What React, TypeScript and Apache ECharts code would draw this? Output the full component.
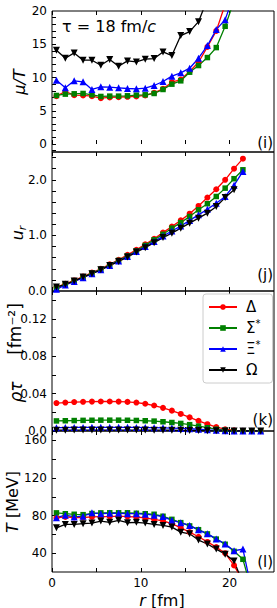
import React, { useEffect, useRef } from "react";
import * as echarts from "echarts";

// ---------- data ----------
const SPECIES = ["Δ", "Σ*", "Ξ*", "Ω"];
const PANEL_TAGS = ["(i)", "(j)", "(k)", "(l)"];

// radial bin centres r [fm]
const R = [0.5, 1.5, 2.5, 3.5, 4.5, 5.5, 6.5, 7.5, 8.5, 9.5, 10.5, 11.5, 12.5, 13.5, 14.5, 15.5, 16.5, 17.5, 18.5, 19.5, 20.5, 21.5, 22.5, 23.5];

// (i) mu/T
const MU_DELTA = [7.2, 7.9, 7.35, 7.3, 7.2, 6.9, 7.0, 7.05, 7.1, 7.15, 7.3, 7.7, 8.3, 9.3, 9.7, 10.9, 12.3, 14.6, 17.0, 21, 26];
const MU_SIGMA = [7.3, 7.5, 7.55, 7.6, 7.4, 7.15, 7.2, 7.2, 7.25, 7.35, 7.4, 7.6, 8.2, 9.0, 9.5, 10.8, 11.8, 13.0, 14.5, 17.7, 21.5, 26];
const MU_XI = [9.6, 8.45, 9.5, 9.35, 8.2, 8.6, 8.55, 8.45, 8.35, 8.3, 8.4, 8.8, 9.4, 10.2, 10.7, 11.4, 12.9, 14.8, 17.2, 18.7, 22.5, 27];
const MU_OMEGA = [14.1, 12.9, 13.7, 12.6, 12.6, 11.85, 12.7, 11.7, 12.5, 12.35, 12.75, 12.85, 13.85, 13.3, 16.3, 16.9, 18.4, 21.8, 26, 31];

// (j) u_r
const UR_DELTA = [0.07, 0.13, 0.19, 0.26, 0.33, 0.40, 0.48, 0.56, 0.65, 0.74, 0.84, 0.94, 1.05, 1.16, 1.27, 1.39, 1.53, 1.68, 1.83, 2.00, 2.20, 2.38];
const UR_SIGMA = [0.06, 0.12, 0.18, 0.25, 0.32, 0.39, 0.47, 0.55, 0.63, 0.72, 0.82, 0.92, 1.02, 1.13, 1.23, 1.34, 1.46, 1.57, 1.70, 1.85, 2.02, 2.18];
const UR_XI = [0.03, 0.11, 0.17, 0.24, 0.31, 0.38, 0.46, 0.54, 0.62, 0.71, 0.80, 0.89, 0.99, 1.08, 1.17, 1.27, 1.37, 1.47, 1.58, 1.70, 1.90, 2.15];
const UR_OMEGA = [0.07, 0.12, 0.18, 0.25, 0.31, 0.38, 0.46, 0.53, 0.61, 0.70, 0.78, 0.87, 0.96, 1.04, 1.13, 1.22, 1.31, 1.40, 1.52, 1.68, 1.82];

// (k) rho*tau [fm^-2]
const RHO_DELTA = [0.0299, 0.0305, 0.0310, 0.0313, 0.0315, 0.0316, 0.0316, 0.0315, 0.0312, 0.0305, 0.0292, 0.0273, 0.0248, 0.0218, 0.0183, 0.0146, 0.0109, 0.0073, 0.0042, 0.0019, 0.0007, 0.0002, 0, 0];
const RHO_SIGMA = [0.0108, 0.0110, 0.0112, 0.0114, 0.0115, 0.0116, 0.0116, 0.0116, 0.0115, 0.0113, 0.0110, 0.0106, 0.0099, 0.0091, 0.0081, 0.0068, 0.0052, 0.0035, 0.0019, 0.0008, 0.0002, 0, 0, 0];
const RHO_XI = [0.0036, 0.0037, 0.0038, 0.0038, 0.0039, 0.0039, 0.0039, 0.0039, 0.0039, 0.0038, 0.0037, 0.0036, 0.0034, 0.0031, 0.0028, 0.0024, 0.0019, 0.0013, 0.0008, 0.0004, 0.0001, 0, 0, 0];
const RHO_OMEGA = [0.0009, 0.0009, 0.0010, 0.0010, 0.0010, 0.0010, 0.0010, 0.0010, 0.0010, 0.0010, 0.0010, 0.0009, 0.0009, 0.0008, 0.0007, 0.0006, 0.0005, 0.0003, 0.0002, 0.0001, 0, 0, 0, 0];

// (l) T [MeV]
const T_DELTA = [77.5, 78.6, 78, 78, 78.6, 79, 79, 79.5, 79, 78.5, 77.5, 76, 74.5, 71.4, 67, 62.4, 57.5, 52, 46.5, 40, 27, 10];
const T_SIGMA = [82.9, 82, 81.4, 81, 82.2, 82.9, 83, 83, 83, 82.5, 82, 81.4, 79.3, 76, 72.5, 69, 65, 60.5, 55, 49.5, 42, 33.5, 0];
const T_XI = [77.8, 80.4, 78.6, 79.3, 82.9, 82, 82.5, 82.5, 82, 82, 81.5, 80.5, 79, 75, 72.5, 69.6, 64.9, 60.6, 55.2, 49.8, 42.6, 44.4, 0];
const T_OMEGA = [67, 70.6, 70.6, 71.4, 72, 74.2, 72.8, 75, 72.4, 72.8, 72, 70.6, 69.6, 67.8, 62.4, 60.6, 54, 49.8, 44.4, 39, 31.8, 8];

// axis ticks
const X_TICKS = [0, 5, 10, 15, 20];
const X_LABELS = [0, 10, 20];
const Y1_LABELS = [0, 5, 10, 15, 20];
const Y1_TICKS = [-1, 0, 1, 2, 3, 4, 5, 6, 7, 8, 9, 10, 11, 12, 13, 14, 15, 16, 17, 18, 19];
const Y2_LABELS = [0, 1, 2];
const Y2_TICKS = [0, 0.2, 0.4, 0.6, 0.8, 1.0, 1.2, 1.4, 1.6, 1.8, 2.0, 2.2, 2.4];
const Y3_LABELS = [0, 0.04, 0.08, 0.12];
const Y3_TICKS = [0, 0.02, 0.04, 0.06, 0.08, 0.1, 0.12, 0.14];
const Y4_LABELS = [40, 80, 120, 160];
const Y4_TICKS = [40, 60, 80, 100, 120, 140, 160];

const PANEL_DATA = [
  [MU_DELTA, MU_SIGMA, MU_XI, MU_OMEGA],
  [UR_DELTA, UR_SIGMA, UR_XI, UR_OMEGA],
  [RHO_DELTA, RHO_SIGMA, RHO_XI, RHO_OMEGA],
  [T_DELTA, T_SIGMA, T_XI, T_OMEGA],
];

// ---------- styling ----------
const FONT = "DejaVu Sans";
const STYLES = [
  { color: "#ff0000", symbol: "circle", size: 6 },
  { color: "#008000", symbol: "rect", size: 5.5 },
  { color: "#0000ff", symbol: "triangle", size: 7 },
  { color: "#000000", symbol: "path://M0,0L10,0L5,9Z", size: 7 },
];
const GRIDS = [
  { top: 11, height: 141 },
  { top: 152, height: 139 },
  { top: 291, height: 140 },
  { top: 431, height: 141 },
];
const Y_AXES = [
  { min: -1.2, max: 20, labels: Y1_LABELS, ticks: Y1_TICKS, fmt: (v: number) => String(v) },
  { min: 0, max: 2.5, labels: Y2_LABELS, ticks: Y2_TICKS, fmt: (v: number) => v.toFixed(1) },
  { min: 0, max: 0.15, labels: Y3_LABELS, ticks: Y3_TICKS, fmt: (v: number) => (v === 0 ? "0.0" : v.toFixed(2)) },
  { min: 20, max: 170, labels: Y4_LABELS, ticks: Y4_TICKS, fmt: (v: number) => String(v) },
];

function buildOption() {
  const grid = GRIDS.map((g) => ({
    left: 52,
    right: 3,
    top: g.top,
    height: g.height,
    show: true,
    borderColor: "#000",
    borderWidth: 1,
    backgroundColor: "transparent",
  }));
  const xAxis: any[] = [];
  GRIDS.forEach((_, gi) => {
    ["bottom", "top"].forEach((pos) => {
      xAxis.push({
        type: "value",
        gridIndex: gi,
        position: pos,
        min: 0,
        max: 25,
        axisLine: { show: false },
        splitLine: { show: false },
        axisTick: { show: true, inside: true, length: 4, customValues: X_TICKS, lineStyle: { color: "#000", width: 1 } },
        axisLabel: {
          show: gi === 3 && pos === "bottom",
          customValues: X_LABELS,
          margin: 5,
          fontSize: 12,
          color: "#000",
          fontFamily: FONT,
        },
      });
    });
  });
  const yAxis = Y_AXES.map((y, gi) => ({
    type: "value",
    gridIndex: gi,
    min: y.min,
    max: y.max,
    axisLine: { show: false },
    splitLine: { show: false },
    axisTick: { show: true, inside: true, length: 4, customValues: y.ticks, lineStyle: { color: "#000", width: 1 } },
    axisLabel: {
      show: true,
      customValues: y.labels,
      formatter: y.fmt,
      margin: 5,
      fontSize: 12,
      color: "#000",
      fontFamily: FONT,
    },
  }));
  const series: any[] = [];
  PANEL_DATA.forEach((panel, gi) => {
    panel.forEach((vals, si) => {
      const st = STYLES[si];
      series.push({
        type: "line",
        name: SPECIES[si],
        xAxisIndex: gi * 2,
        yAxisIndex: gi,
        data: vals.map((v, i) => [R[i], v]),
        symbol: st.symbol,
        symbolSize: st.size,
        showAllSymbol: true,
        clip: true,
        color: st.color,
        itemStyle: { color: st.color },
        lineStyle: { color: st.color, width: 1.3 },
        emphasis: { disabled: true },
        silent: true,
      });
    });
  });

  const richCommon = {
    i: { fontStyle: "italic", fontSize: 16, fontFamily: FONT, fill: "#000" },
    n: { fontSize: 16, fontFamily: FONT, fill: "#000" },
  };
  const rotText = (x: number, y: number, text: string, rich: any, fontSize = 16) => ({
    type: "text",
    x,
    y,
    rotation: Math.PI / 2,
    silent: true,
    style: {
      text,
      fill: "#000",
      fontSize,
      fontFamily: FONT,
      align: "center",
      verticalAlign: "middle",
      textAlign: "center",
      textVerticalAlign: "middle",
      rich,
    },
  });
  const graphic: any[] = [
    {
      type: "text",
      x: 62,
      y: 26,
      silent: true,
      style: {
        text: "{n|τ = 18 fm/}{i|c}",
        fill: "#000",
        fontSize: 16,
        fontFamily: FONT,
        verticalAlign: "middle",
        textVerticalAlign: "middle",
        rich: richCommon,
      },
    },
    rotText(19.5, 82, "{i|μ/T}", richCommon),
    rotText(17, 233, "{i|u}{sub|r}", {
      i: { fontStyle: "italic", fontSize: 16, fontFamily: FONT, lineHeight: 22, verticalAlign: "middle" },
      sub: { fontStyle: "italic", fontSize: 11, fontFamily: FONT, lineHeight: 22, verticalAlign: "bottom", padding: [0, 0, 0, 0] },
    }),
    rotText(16, 392, "{i|ρτ}", {
      i: { fontStyle: "italic", fontSize: 17, fontFamily: FONT, fill: "#000" },
    }, 17),
    rotText(15, 329, "[fm⁻²]", {}, 17),
    rotText(12, 502, "{i|T}{n| [MeV]}", richCommon),
    {
      type: "text",
      x: 162,
      y: 600,
      silent: true,
      style: {
        text: "{i|r}{n| [fm]}",
        fill: "#000",
        fontSize: 16,
        fontFamily: FONT,
        align: "center",
        verticalAlign: "middle",
        textAlign: "center",
        textVerticalAlign: "middle",
        rich: {
          i: { fontStyle: "italic", fontSize: 16, fontFamily: FONT, fill: "#000", lineHeight: 16 },
          n: { fontSize: 16, fontFamily: FONT, fill: "#000", lineHeight: 16 },
        },
      },
    },
  ];
  const tagY = [143, 275, 420, 562];
  PANEL_TAGS.forEach((t, i) => {
    graphic.push({
      type: "text",
      x: 273,
      y: tagY[i],
      silent: true,
      style: {
        text: t,
        fill: "#000",
        fontSize: 15,
        fontFamily: FONT,
        align: "right",
        verticalAlign: "middle",
        textAlign: "right",
        textVerticalAlign: "middle",
      },
    });
  });

  return {
    animation: false,
    textStyle: { fontFamily: FONT },
    grid,
    xAxis,
    yAxis,
    series,
    graphic,
    legend: {
      data: SPECIES,
      orient: "vertical",
      left: 203,
      top: 294,
      padding: [3, 12, 3, 5],
      itemWidth: 28,
      itemHeight: 7,
      itemGap: 1,
      borderColor: "#cccccc",
      borderWidth: 1,
      borderRadius: 3,
      backgroundColor: "#ffffff",
      selectedMode: false,
      formatter: (n: string) => (n.endsWith("*") ? n.slice(0, -1) + "{sup|*}" : n),
      textStyle: {
        fontSize: 15,
        color: "#000",
        fontFamily: FONT,
        lineHeight: 20,
        padding: [0, 0, 0, 4],
        rich: {
          sup: { fontSize: 10, lineHeight: 12, verticalAlign: "top", fontFamily: FONT, color: "#000" },
        },
      },
    },
  };
}

export default function App() {
  const ref = useRef<HTMLDivElement>(null);
  useEffect(() => {
    if (!ref.current) return;
    const chart = echarts.init(ref.current, null, { renderer: "svg" });
    chart.setOption(buildOption() as any);
    return () => chart.dispose();
  }, []);
  return (
    <div
      ref={ref}
      style={{ position: "absolute", left: 0, top: 0, width: 277, height: 608, background: "#fff" }}
    />
  );
}
